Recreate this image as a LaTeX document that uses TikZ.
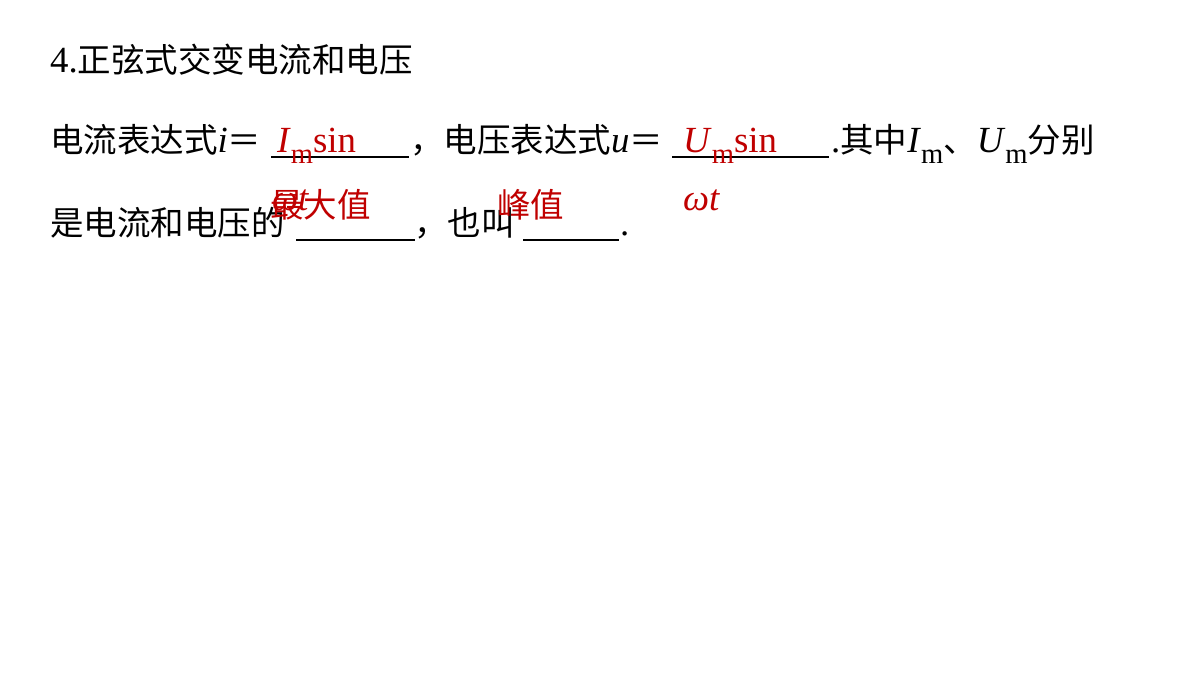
\documentclass[tikz,border=0pt]{standalone}
\usepackage{fontspec}
\setmainfont{Liberation Serif}[Scale=1.1]
\newfontfamily\cjk{Noto Sans CJK SC}
\definecolor{ans}{RGB}{192,0,0}
\newcommand{\lowsub}[1]{\raisebox{-0.3em}{\fontsize{26}{26}\selectfont #1}}
\begin{document}
\begin{tikzpicture}[x=1pt,y=-1pt,
  txt/.style={anchor=base west,inner sep=0pt,font=\fontsize{33.5}{34}\selectfont},
  red/.style={txt,text=ans},
  blank/.style={line width=1.3pt}]
\useasboundingbox[fill=white] (0,0) rectangle (1200,675);
\node[txt] (t) at (50,72) {4.{\cjk 正弦式交变电流和电压}};
\node[txt] (l1a) at (50,152) {{\cjk 电流表达式}\textit{i}{\cjk ＝}};
\coordinate (b1s) at (271,157); \coordinate (b1e) at (409,157);
\draw[blank] (b1s) -- (b1e);
\node[txt] (l1b) at (410,152) {{\cjk ，电压表达式}\textit{u}{\cjk ＝}};
\coordinate (b2s) at (672,157); \coordinate (b2e) at (829,157);
\draw[blank] (b2s) -- (b2e);
\node[txt] (l1c) at (831,152) {.{\cjk 其中}\textit{I}\lowsub{m}{\cjk 、}\textit{U}\lowsub{m}{\cjk 分别}};
\node[txt] (l3a) at (50,235) {\cjk 是电流和电压的};
\coordinate (b3s) at (296,240); \coordinate (b3e) at (415,240);
\draw[blank] (b3s) -- (b3e);
\node[txt] (l3b) at (414,235) {\cjk ，也叫};
\coordinate (b4s) at (523,240); \coordinate (b4e) at (619,240);
\draw[blank] (b4s) -- (b4e);
\node[txt] (dot) at (620,235) {.};
\node[red] (a1) at (277,152) {\textit{I}\lowsub{m}sin};
\node[red] (a2) at (683,152) {\textit{U}\lowsub{m}sin};
\node[red] (w1) at (272,210) {\textit{ωt}};
\node[red] (w2) at (683,210) {\textit{ωt}};
\node[red] (a3) at (270,217) {\cjk 最大值};
\node[red] (a4) at (497,217) {\cjk 峰值};
\end{tikzpicture}
\end{document}
